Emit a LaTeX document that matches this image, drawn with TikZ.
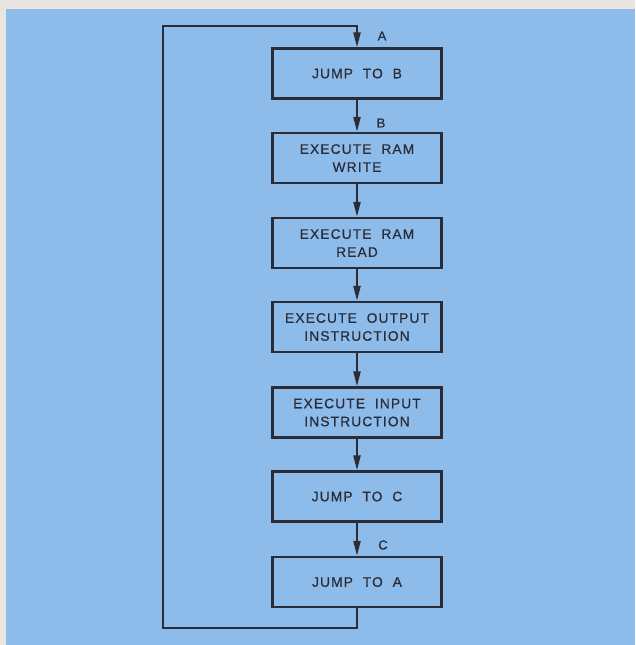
\documentclass[tikz,border=0pt]{standalone}
\usepackage{fontspec}
\setmainfont{Liberation Sans}[LetterSpace=8,FakeBold=0.6]
\usetikzlibrary{arrows.meta}
\definecolor{bgstrip}{HTML}{E9E6E1}
\definecolor{bgblue}{HTML}{8EBCEA}
\definecolor{ink}{HTML}{2A2C38}
\tikzset{
  stepbox/.style={draw=ink, line width=2.2pt, minimum width=169pt, minimum height=50pt,
    inner sep=0pt, align=center, font=\fontsize{13.8pt}{18pt}\selectfont, text=ink},
  flow/.style={draw=ink, line width=2.2pt, -{Triangle[length=15pt,width=7pt]}},
  lbl/.style={font=\fontsize{13pt}{14pt}\selectfont, text=ink, inner sep=0pt}
}
\begin{document}
\begin{tikzpicture}[x=1pt,y=-1pt]
\fill[bgstrip] (0,0) rectangle (635,645);
\fill[bgblue] (6,9) rectangle (635,645);
\useasboundingbox (0,0) rectangle (635,645);

\node[stepbox] (b1) at (357,73.5) {JUMP \ TO \ B};
\node[stepbox] (b2) at (357,158) {EXECUTE \ RAM\\WRITE};
\node[stepbox] (b3) at (357,243) {EXECUTE \ RAM\\READ};
\node[stepbox] (b4) at (357,327) {EXECUTE \ OUTPUT\\INSTRUCTION};
\node[stepbox] (b5) at (357,412.5) {EXECUTE \ INPUT\\INSTRUCTION};
\node[stepbox] (b6) at (357,496.5) {JUMP \ TO \ C};
\node[stepbox] (b7) at (357,582) {JUMP \ TO \ A};

\node[lbl] (la) at (382,36) {A};
\node[lbl] (lb) at (381,123) {B};
\node[lbl] (lc) at (383,545) {C};

\coordinate (p1) at (357,628);
\coordinate (p2) at (163,628);
\coordinate (p3) at (163,26);
\coordinate (p4) at (357,26);

\draw[flow] (b1.south) -- (b2.north);
\draw[flow] (b2.south) -- (b3.north);
\draw[flow] (b3.south) -- (b4.north);
\draw[flow] (b4.south) -- (b5.north);
\draw[flow] (b5.south) -- (b6.north);
\draw[flow] (b6.south) -- (b7.north);
\draw[flow] (b7.south) -- (p1) -- (p2) -- (p3) -- (p4) -- (b1.north);
\end{tikzpicture}
\end{document}
